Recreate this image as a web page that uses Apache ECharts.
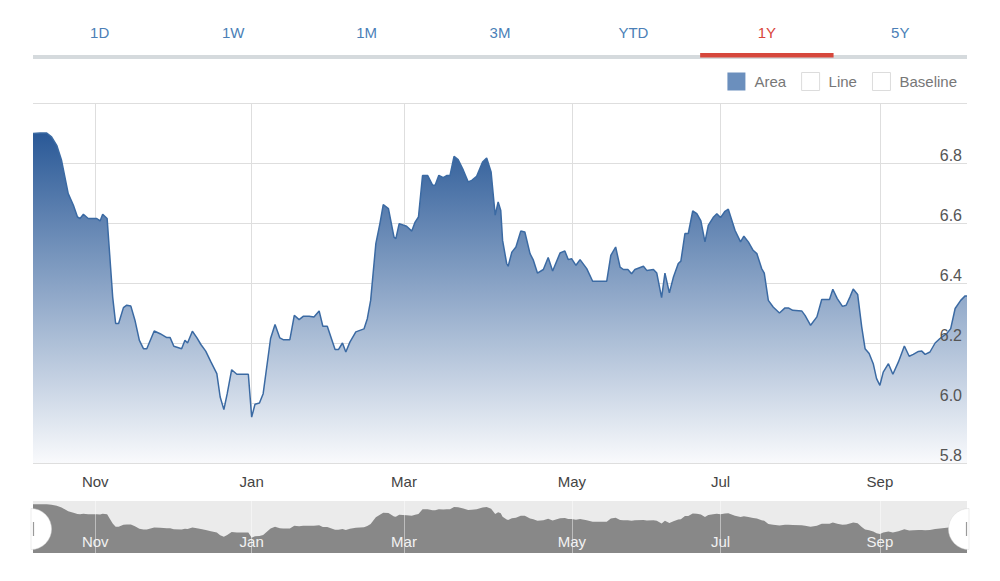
<!DOCTYPE html>
<html>
<head>
<meta charset="utf-8">
<script src="https://cdn.jsdelivr.net/npm/echarts@6/dist/echarts.min.js"></script>
<style>
html,body{margin:0;padding:0;background:#ffffff;}
#chart{width:1000px;height:581px;}
</style>
</head>
<body>
<div id="chart"></div>
<script>
// ---- data ----
const rangeTabs = ['1D', '1W', '1M', '3M', 'YTD', '1Y', '5Y'];
const activeTab = '1Y';
const legendNames = ['Area', 'Line', 'Baseline'];

// x unit: trading session index over the 1-year window
const sessionMin = 0;
const sessionMax = 252;
const monthTicks = [16.8, 59.0, 100.1, 145.4, 185.5, 228.5];
const monthLabels = ['Nov', 'Jan', 'Mar', 'May', 'Jul', 'Sep'];

const yMin = 5.8;
const yMax = 7.0;
const yStep = 0.2;

const sessionIndex = [
  0, 1.9, 3.7, 5.0, 6.4, 7.7, 9.5, 10.9, 12.0, 12.7, 13.6, 14.9, 17.2, 18.1, 18.8, 20.0,
  20.8, 21.5, 22.3, 23.1, 24.4, 25.3, 26.4, 27.5, 28.7, 29.8, 30.7, 32.7, 34.3, 36.1, 37.0,
  38.0, 40.1, 41.0, 41.7, 43.0, 44.2, 45.3, 46.6, 48.0, 49.6, 50.5, 51.5, 52.4, 53.6, 55.0,
  58.1, 59.0, 59.9, 61.1, 62.1, 64.1, 65.3, 66.6, 67.5, 69.3, 70.5, 71.8, 72.9, 74.5, 75.8,
  77.2, 78.2, 79.4, 81.5, 82.4, 83.5, 84.4, 85.5, 87.1, 88.2, 89.3, 90.2, 91.1, 92.5, 93.6,
  94.5, 95.9, 97.4, 97.9, 98.8, 100.8, 102.2, 103.1, 104.0, 105.1, 106.5, 107.8, 108.5, 109.5,
  110.7, 111.6, 112.5, 113.6, 114.7, 116.1, 117.4, 118.4, 119.7, 121.3, 122.4, 123.6, 124.7,
  125.5, 126.2, 126.7, 127.8, 128.2, 129.2, 130.3, 131.6, 132.7, 134.1, 135.0, 136.1, 137.7,
  139.0, 140.2, 142.2, 143.5, 144.4, 145.3, 146.5, 147.6, 149.4, 151.0, 154.8, 155.9, 157.2,
  158.4, 159.3, 160.5, 161.5, 162.4, 164.7, 165.6, 167.4, 168.3, 169.6, 170.5, 171.7, 172.8,
  174.1, 174.8, 175.9, 176.8, 178.0, 179.1, 180.2, 181.3, 182.2, 183.5, 184.5, 185.5, 186.7,
  187.6, 189.4, 190.9, 191.8, 193.0, 194.3, 195.3, 196.6, 197.3, 198.4, 199.7, 201.4, 202.9,
  203.8, 205.0, 207.4, 208.3, 209.8, 211.5, 212.8, 214.9, 215.8, 217.0, 218.4, 219.4, 220.4,
  221.3, 222.5, 223.6, 224.5, 225.6, 226.7, 227.6, 228.5, 229.4, 230.8, 232.0, 233.5, 235.1,
  236.4, 237.5, 238.9, 239.8, 240.7, 242.0, 243.4, 244.7, 246.5, 247.6, 248.8, 250.3, 251.5, 252.0
];

const closeValues = [
  6.898, 6.900, 6.900, 6.887, 6.859, 6.809, 6.698, 6.659, 6.620, 6.615, 6.629, 6.615, 6.615, 6.607, 6.629, 6.615,
  6.476, 6.353, 6.265, 6.265, 6.318, 6.326, 6.323, 6.276, 6.209, 6.181, 6.181, 6.240, 6.231, 6.218, 6.218,
  6.189, 6.181, 6.209, 6.200, 6.239, 6.218, 6.195, 6.173, 6.137, 6.098, 6.020, 5.978, 6.031, 6.111, 6.096,
  6.096, 5.953, 5.996, 6.000, 6.031, 6.215, 6.262, 6.217, 6.211, 6.211, 6.292, 6.278, 6.289, 6.289, 6.287,
  6.307, 6.256, 6.256, 6.178, 6.178, 6.200, 6.170, 6.203, 6.237, 6.242, 6.247, 6.281, 6.342, 6.531, 6.598,
  6.661, 6.648, 6.553, 6.548, 6.598, 6.589, 6.573, 6.603, 6.620, 6.758, 6.758, 6.726, 6.726, 6.759,
  6.751, 6.758, 6.758, 6.822, 6.811, 6.776, 6.737, 6.742, 6.756, 6.803, 6.817, 6.770, 6.626,
  6.670, 6.642, 6.542, 6.465, 6.456, 6.503, 6.520, 6.573, 6.570, 6.498, 6.476, 6.433, 6.445,
  6.485, 6.440, 6.500, 6.507, 6.478, 6.481, 6.459, 6.478, 6.448, 6.406, 6.406, 6.492, 6.520,
  6.453, 6.445, 6.445, 6.431, 6.445, 6.456, 6.442, 6.445, 6.433, 6.351, 6.433, 6.367, 6.420,
  6.465, 6.473, 6.565, 6.565, 6.640, 6.631, 6.607, 6.537, 6.592, 6.618, 6.631, 6.618, 6.639,
  6.646, 6.576, 6.537, 6.556, 6.537, 6.509, 6.498, 6.448, 6.433, 6.342, 6.320, 6.300, 6.317,
  6.317, 6.309, 6.307, 6.292, 6.259, 6.287, 6.345, 6.345, 6.379, 6.348, 6.322, 6.326, 6.353,
  6.380, 6.362, 6.253, 6.181, 6.165, 6.131, 6.081, 6.059, 6.103, 6.131, 6.096, 6.137, 6.190,
  6.156, 6.162, 6.172, 6.173, 6.162, 6.170, 6.200, 6.215, 6.231, 6.248, 6.315, 6.342, 6.357, 6.357
];

// navigator value range
const navMin = 5.52;
const navMax = 6.99;

// ---- chart ----
const FONT = '"Liberation Sans", Arial, sans-serif';
const seriesData = sessionIndex.map((s, i) => [s, closeValues[i]]);

function monthName(v) {
  let best = 0, bestD = Infinity;
  monthTicks.forEach((t, i) => { const d = Math.abs(t - v); if (d < bestD) { bestD = d; best = i; } });
  return monthLabels[best];
}

const plotLeft = 33, plotRight = 33, plotTop = 103, plotHeight = 360;
const navTop = 501, navHeight = 52;

// tab strip graphics (UI decoration)
const tabWidth = (1000 - plotLeft - plotRight) / rangeTabs.length;
const graphics = [];
graphics.push({
  type: 'rect', z: 1,
  shape: { x: plotLeft, y: 55, width: 1000 - plotLeft - plotRight, height: 4 },
  style: { fill: '#d5dadd' }
});
rangeTabs.forEach((t, i) => {
  const cx = plotLeft + tabWidth * (i + 0.5);
  const active = t === activeTab;
  graphics.push({
    type: 'text', z: 2, x: cx, y: 32,
    style: {
      text: t, fill: active ? '#d9453a' : '#4b7fb7',
      fontSize: 15, fontFamily: FONT, align: 'center', verticalAlign: 'middle'
    }
  });
  if (active) {
    graphics.push({
      type: 'rect', z: 2,
      shape: { x: plotLeft + tabWidth * i, y: 53, width: tabWidth, height: 4.5 },
      style: { fill: '#d6473c' }
    });
  }
});
// navigator handles
const handleCy = navTop + navHeight / 2 + 2;
graphics.push({
  type: 'sector', z: 20,
  shape: { cx: 31, cy: handleCy, r: 20.5, r0: 0, startAngle: -Math.PI / 2, endAngle: Math.PI / 2, clockwise: true },
  style: { fill: '#ffffff', stroke: '#d8d8d8', lineWidth: 0.5 }
});
graphics.push({
  type: 'sector', z: 20,
  shape: { cx: 969, cy: handleCy, r: 20.5, r0: 0, startAngle: Math.PI / 2, endAngle: Math.PI * 3 / 2, clockwise: true },
  style: { fill: '#ffffff', stroke: '#d8d8d8', lineWidth: 0.5 }
});
graphics.push({
  type: 'line', z: 21,
  shape: { x1: 33.5, y1: handleCy - 7, x2: 33.5, y2: handleCy + 7 },
  style: { stroke: '#9a9a9a', lineWidth: 1.2 }
});
graphics.push({
  type: 'line', z: 21,
  shape: { x1: 966.5, y1: handleCy - 7, x2: 966.5, y2: handleCy + 7 },
  style: { stroke: '#9a9a9a', lineWidth: 1.2 }
});

const legendStyles = {
  Area: { color: '#6b8fbd', borderWidth: 0 },
  Line: { color: '#ffffff', borderColor: '#dcdcdc', borderWidth: 1 },
  Baseline: { color: '#ffffff', borderColor: '#dcdcdc', borderWidth: 1 }
};

const option = {
  animation: false,
  backgroundColor: '#ffffff',
  textStyle: { fontFamily: FONT },
  graphic: graphics,
  legend: {
    data: legendNames.map(n => ({ name: n, icon: 'rect', itemStyle: legendStyles[n] })),
    right: 43, top: 72, padding: 0,
    itemWidth: 18, itemHeight: 18, itemGap: 15,
    selectedMode: false,
    textStyle: { color: '#777777', fontSize: 15, fontFamily: FONT, padding: [0, 0, 0, 4] }
  },
  grid: [
    { left: plotLeft, right: plotRight, top: plotTop, height: plotHeight, show: false },
    { left: plotLeft, right: plotRight, top: navTop, height: navHeight, show: true,
      backgroundColor: '#ebebeb', borderWidth: 0 }
  ],
  xAxis: [
    {
      type: 'value', gridIndex: 0, min: sessionMin, max: sessionMax,
      axisLine: { show: false },
      axisTick: { show: false, customValues: monthTicks },
      axisLabel: {
        customValues: monthTicks, formatter: v => monthName(v),
        color: '#444444', fontSize: 15, fontFamily: FONT, margin: 11
      },
      splitLine: { show: true, lineStyle: { color: '#dedede', width: 1 } }
    },
    {
      type: 'value', gridIndex: 1, min: sessionMin, max: sessionMax, z: 6,
      axisLine: { show: false },
      axisTick: { show: false, customValues: monthTicks },
      axisLabel: {
        customValues: monthTicks, formatter: v => monthName(v), inside: true,
        color: '#f2f2f2', fontSize: 15, fontFamily: FONT, margin: 4
      },
      splitLine: { show: true, lineStyle: { color: 'rgba(255,255,255,0.45)', width: 1 } }
    }
  ],
  yAxis: [
    {
      type: 'value', gridIndex: 0, position: 'right', min: yMin, max: yMax, interval: yStep,
      axisLine: { show: false }, axisTick: { show: false },
      axisLabel: { show: false },
      splitLine: { show: true, lineStyle: { color: '#dedede', width: 1 } }
    },
    {
      type: 'value', gridIndex: 0, position: 'right', min: yMin, max: yMax, interval: yStep, z: 10,
      axisLine: { show: false }, axisTick: { show: false },
      splitLine: { show: false },
      axisLabel: {
        inside: true, showMaxLabel: false, formatter: v => v.toFixed(1),
        color: '#555555', fontSize: 16, fontFamily: FONT, margin: 5,
        verticalAlign: 'bottom', align: 'right'
      }
    },
    {
      type: 'value', gridIndex: 1, min: navMin, max: navMax, show: false
    }
  ],
  series: [
    {
      name: 'Area', type: 'line', xAxisIndex: 0, yAxisIndex: 0,
      data: seriesData, symbol: 'none', smooth: false, z: 2,
      lineStyle: { color: '#3b6aa3', width: 1.5 },
      itemStyle: { color: '#3b6aa3' },
      areaStyle: {
        opacity: 1,
        color: new echarts.graphic.LinearGradient(0, 0, 0, 1, [
          { offset: 0, color: '#2a5997' },
          { offset: 1, color: '#f9fafc' }
        ])
      }
    },
    { name: 'Line', type: 'line', xAxisIndex: 0, yAxisIndex: 0, data: [] },
    { name: 'Baseline', type: 'line', xAxisIndex: 0, yAxisIndex: 0, data: [] },
    {
      name: 'Navigator', type: 'line', xAxisIndex: 1, yAxisIndex: 2,
      data: seriesData, symbol: 'none', silent: true, z: 2,
      lineStyle: { width: 0, color: '#888888' },
      itemStyle: { color: '#888888' },
      areaStyle: { color: '#888888', opacity: 1 }
    }
  ]
};

const chart = echarts.init(document.getElementById('chart'), null, { renderer: 'svg' });
chart.setOption(option);
</script>
</body>
</html>
